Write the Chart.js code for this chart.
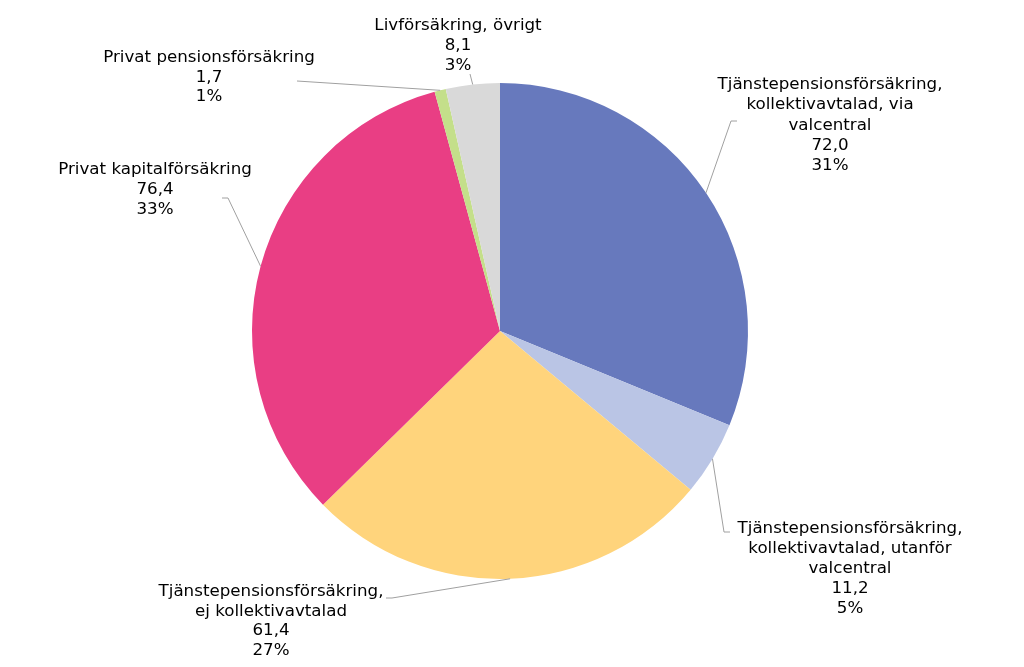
<!DOCTYPE html>
<html lang="sv">
<head>
<meta charset="UTF-8">
<script src="https://cdn.jsdelivr.net/npm/chart.js"></script>
<title>Försäkringar</title>
<style>
    html, body { margin: 0; padding: 0; background: #fff; }
    #wrap { width: 1024px; height: 667px; }
</style>
</head>
<body>
<div id="wrap"><canvas id="pie" width="1024" height="667"></canvas></div>
<script>
    // data
    const categories = [
        ['Tjänstepensionsförsäkring,', 'kollektivavtalad, via', 'valcentral'],
        ['Tjänstepensionsförsäkring,', 'kollektivavtalad, utanför', 'valcentral'],
        ['Tjänstepensionsförsäkring,', 'ej kollektivavtalad'],
        ['Privat kapitalförsäkring'],
        ['Privat pensionsförsäkring'],
        ['Livförsäkring, övrigt']
    ];
    const values = [72.0, 11.2, 61.4, 76.4, 1.7, 8.1];
    const percents = [31, 5, 27, 33, 1, 3];
    const colors = ['#6779bd', '#bac5e5', '#ffd47c', '#e93e84', '#c4df8a', '#d9d9d9'];

    // label layout: center x, first baseline, line gap, leader elbow, leader end
    const labelLayout = [
        { cx: 830, y: 89, gap: 20.3, elbow: [731, 121], end: [737, 121] },
        { cx: 850, y: 533, gap: 20, elbow: [724, 532], end: [730, 532] },
        { cx: 271, y: 596, gap: 19.5, elbow: [392, 598], end: [386, 598] },
        { cx: 155, y: 174, gap: 20, elbow: [228, 198], end: [222, 198] },
        { cx: 209, y: 62, gap: 19.5, elbow: [297, 81], end: [297, 81] },
        { cx: 458, y: 30, gap: 20, elbow: [470, 74], end: [470, 74] }
    ];

    const labelPlugin = {
        id: 'labels',
        afterDatasetsDraw(chart) {
            const ctx = chart.ctx;
            const arcs = chart.getDatasetMeta(0).data;
            ctx.save();
            arcs.forEach(function (arc, i) {
                const p = arc.getProps(['x', 'y', 'startAngle', 'endAngle', 'outerRadius'], true);
                const mid = (p.startAngle + p.endAngle) / 2;
                const sx = p.x + Math.cos(mid) * p.outerRadius;
                const sy = p.y + Math.sin(mid) * p.outerRadius;
                const L = labelLayout[i];
                ctx.strokeStyle = '#a0a0a0';
                ctx.lineWidth = 1;
                ctx.beginPath();
                ctx.moveTo(sx, sy);
                ctx.lineTo(L.elbow[0], L.elbow[1]);
                ctx.lineTo(L.end[0], L.end[1]);
                ctx.stroke();

                const lines = categories[i].concat([values[i].toFixed(1).replace('.', ','), percents[i] + '%']);
                ctx.fillStyle = '#000';
                ctx.font = '16.7px "DejaVu Sans", Verdana, sans-serif';
                ctx.textAlign = 'center';
                ctx.textBaseline = 'alphabetic';
                lines.forEach(function (t, j) {
                    ctx.fillText(t, L.cx, L.y + j * L.gap);
                });
            });
            ctx.restore();
        }
    };

    new Chart(document.getElementById('pie'), {
        type: 'pie',
        data: {
            labels: categories,
            datasets: [{
                data: values,
                backgroundColor: colors,
                borderWidth: 0
            }]
        },
        options: {
            responsive: false,
            animation: false,
            layout: { padding: { top: 83, bottom: 88, left: 0, right: 24 } },
            plugins: {
                legend: { display: false },
                tooltip: { enabled: false }
            }
        },
        plugins: [labelPlugin]
    });
</script>
</body>
</html>
